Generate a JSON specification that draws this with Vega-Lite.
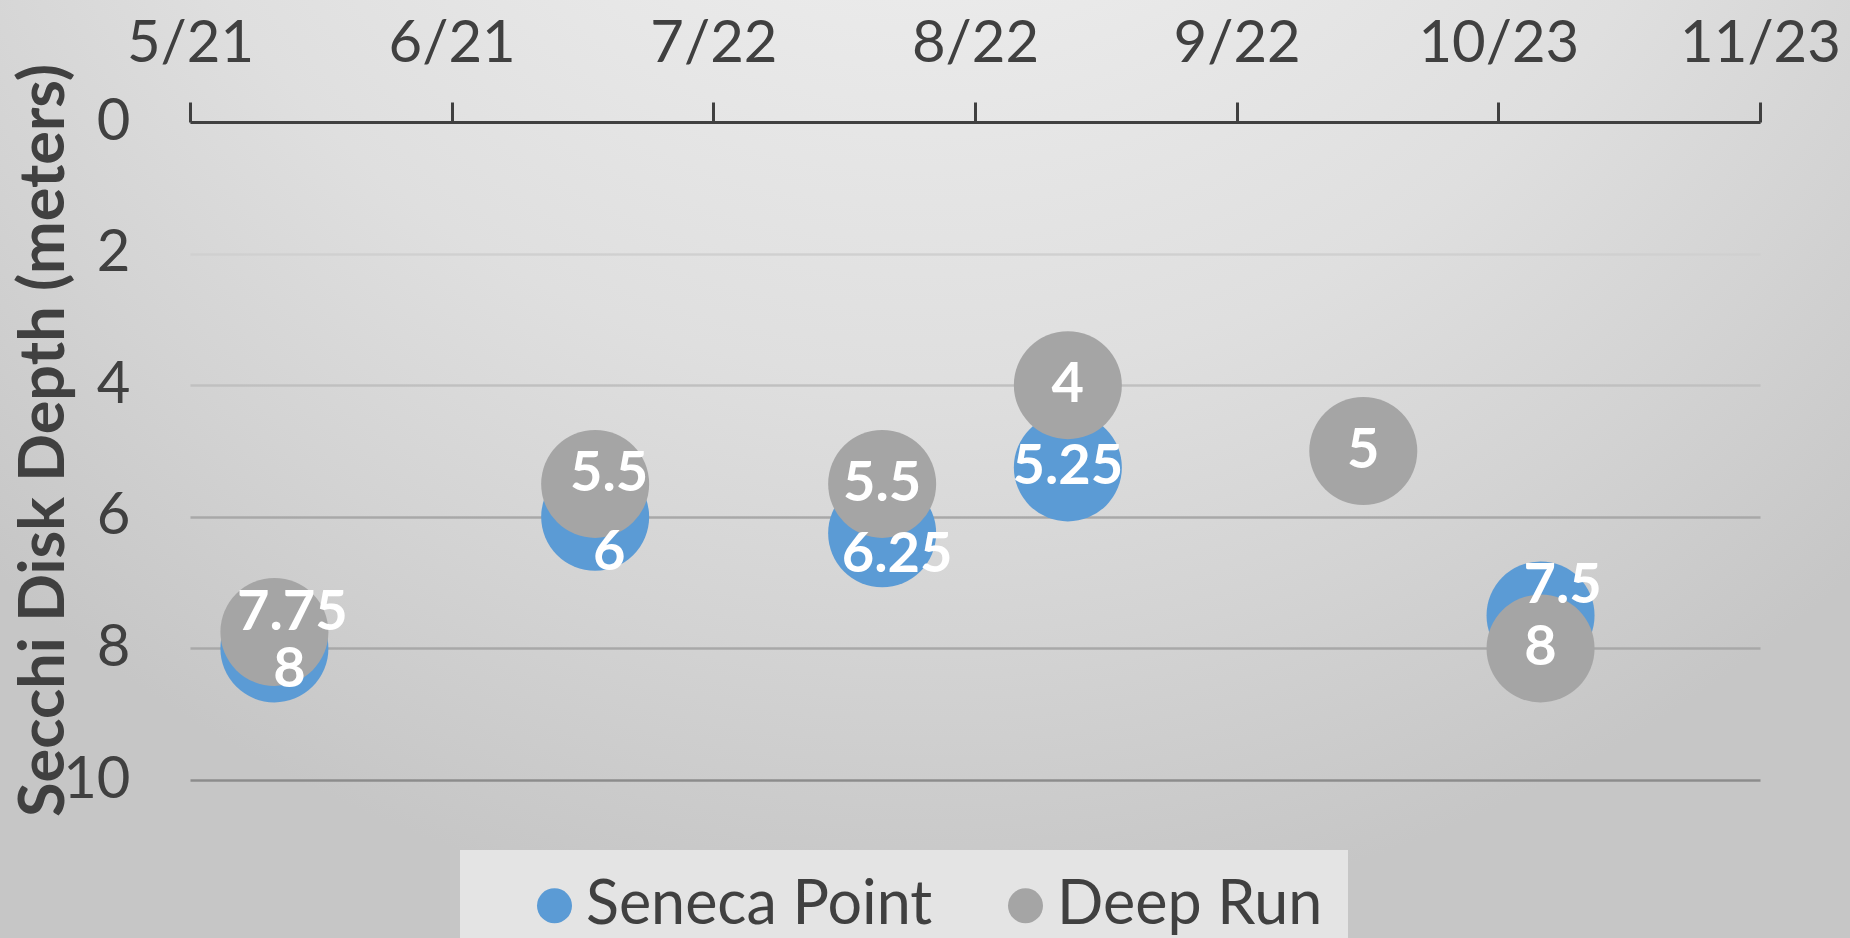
{
  "$schema": "https://vega.github.io/schema/vega-lite/v6.json",
  "width": 1850,
  "height": 938,
  "autosize": {"type": "none"},
  "padding": 0,
  "background": "#d6d6d6",
  "config": {
    "font": "Lato",
    "view": {
      "stroke": null,
      "fill": {
        "gradient": "radial",
        "x1": 0.5, "y1": 0, "r1": 0,
        "x2": 0.5, "y2": 0, "r2": 0.75,
        "stops": [
          {"offset": 0, "color": "#fafafa"},
          {"offset": 0.3, "color": "#ebebeb"},
          {"offset": 0.6, "color": "#dfdfdf"},
          {"offset": 0.8, "color": "#d3d3d3"},
          {"offset": 1, "color": "#c6c6c6"}
        ]
      }
    }
  },
  "data": {
    "values": [
      {"date": "2023-05-31T00:00:00", "site": "Seneca Point", "depth": 8},
      {"date": "2023-07-08T00:00:00", "site": "Seneca Point", "depth": 6},
      {"date": "2023-08-11T00:00:00", "site": "Seneca Point", "depth": 6.25},
      {"date": "2023-09-02T00:00:00", "site": "Seneca Point", "depth": 5.25},
      {"date": "2023-10-28T00:00:00", "site": "Seneca Point", "depth": 7.5},
      {"date": "2023-05-31T00:00:00", "site": "Deep Run", "depth": 7.75},
      {"date": "2023-07-08T00:00:00", "site": "Deep Run", "depth": 5.5},
      {"date": "2023-08-11T00:00:00", "site": "Deep Run", "depth": 5.5},
      {"date": "2023-09-02T00:00:00", "site": "Deep Run", "depth": 4},
      {"date": "2023-10-07T00:00:00", "site": "Deep Run", "depth": 5},
      {"date": "2023-10-28T00:00:00", "site": "Deep Run", "depth": 8}
    ]
  },
  "encoding": {
    "x": {
      "field": "date",
      "type": "temporal",
      "scale": {
        "domain": [{"year": 2023, "month": 5, "date": 21}, {"year": 2023, "month": 11, "date": 23}],
        "range": [190, 1760],
        "nice": false
      },
      "axis": {
        "orient": "top",
        "offset": -122,
        "values": [
          {"year": 2023, "month": 5, "date": 21},
          {"year": 2023, "month": 6, "date": 21},
          {"year": 2023, "month": 7, "date": 22},
          {"year": 2023, "month": 8, "date": 22},
          {"year": 2023, "month": 9, "date": 22},
          {"year": 2023, "month": 10, "date": 23},
          {"year": 2023, "month": 11, "date": 23}
        ],
        "format": "%-m/%-d",
        "title": null,
        "grid": false,
        "labelFont": "Lato",
        "labelFontSize": 58,
        "labelColor": "#404040",
        "labelBaseline": "alphabetic",
        "labelPadding": 41,
        "labelFlush": false,
        "labelOverlap": false,
        "labelBound": false,
        "tickSize": 20,
        "tickWidth": 3,
        "tickColor": "#404040",
        "domainColor": "#404040",
        "domainWidth": 3
      }
    },
    "y": {
      "field": "depth",
      "type": "quantitative",
      "scale": {"domain": [0, 10], "range": [122, 780], "nice": false, "zero": false},
      "axis": {
        "orient": "left",
        "offset": -130,
        "values": [0, 2, 4, 6, 8, 10],
        "labelFont": "Lato",
        "labelFontSize": 58,
        "labelColor": "#404040",
        "labelPadding": 0,
        "labelFlush": false,
        "labelOverlap": false,
        "labelBound": false,
        "ticks": false,
        "tickSize": 0,
        "domain": false,
        "grid": true,
        "gridColor": {
          "condition": [
            {"test": "datum.value == 2", "value": "#d0d0d0"},
            {"test": "datum.value == 4", "value": "#c0c0c0"},
            {"test": "datum.value == 10", "value": "#8c8c8c"}
          ],
          "value": "#a8a8a8"
        },
        "gridWidth": 2.5,
        "title": "Secchi Disk Depth (meters)",
        "titleFont": "Lato",
        "titleFontWeight": "bold",
        "titleFontSize": 63,
        "titleColor": "#404040",
        "titleAngle": -90,
        "titleX": -67,
        "titleY": 440,
        "titleAlign": "center",
        "titleBaseline": "alphabetic"
      }
    }
  },
  "layer": [
    {
      "mark": {"type": "circle", "size": 11664, "opacity": 1},
      "encoding": {
        "color": {
          "field": "site",
          "type": "nominal",
          "scale": {"domain": ["Seneca Point", "Deep Run"], "range": ["#5B9BD5", "#A5A5A5"]},
          "legend": {
            "orient": "none",
            "legendX": 460,
            "legendY": 850,
            "direction": "horizontal",
            "title": null,
            "symbolType": "circle",
            "symbolSize": 1225,
            "symbolOpacity": 1,
            "symbolStrokeWidth": 0,
            "symbolOffset": 39,
            "labelFont": "Lato",
            "labelFontSize": 61,
            "labelColor": "#404040",
            "labelOffset": 1,
            "labelLimit": 1000,
            "columnPadding": 23,
            "padding": 25,
            "fillColor": "#e4e4e4"
          }
        }
      }
    },
    {
      "transform": [{"filter": "(datum.site=='Seneca Point' && datum.depth==5.25) || (datum.site=='Deep Run' && (datum.depth==4 || datum.depth==5 || datum.depth==8 || (datum.depth==5.5 && month(datum.date)==7)))"}],
      "mark": {"type": "text", "font": "Lato", "fontWeight": "bold", "fontSize": 56, "color": "white", "align": "center", "baseline": "middle"},
      "encoding": {"text": {"field": "depth", "type": "quantitative"}}
    },
    {
      "transform": [{"filter": "datum.site=='Seneca Point' && (datum.depth==8 || datum.depth==6.25)"}],
      "mark": {"type": "text", "font": "Lato", "fontWeight": "bold", "fontSize": 56, "color": "white", "align": "center", "baseline": "middle", "dx": 15, "dy": 22},
      "encoding": {"text": {"field": "depth", "type": "quantitative"}}
    },
    {
      "transform": [{"filter": "datum.site=='Seneca Point' && datum.depth==6"}],
      "mark": {"type": "text", "font": "Lato", "fontWeight": "bold", "fontSize": 56, "color": "white", "align": "center", "baseline": "middle", "dx": 14, "dy": 36},
      "encoding": {"text": {"field": "depth", "type": "quantitative"}}
    },
    {
      "transform": [{"filter": "datum.site=='Seneca Point' && datum.depth==7.5"}],
      "mark": {"type": "text", "font": "Lato", "fontWeight": "bold", "fontSize": 56, "color": "white", "align": "center", "baseline": "middle", "dx": 22, "dy": -30},
      "encoding": {"text": {"field": "depth", "type": "quantitative"}}
    },
    {
      "transform": [{"filter": "datum.site=='Deep Run' && datum.depth==7.75"}],
      "mark": {"type": "text", "font": "Lato", "fontWeight": "bold", "fontSize": 56, "color": "white", "align": "center", "baseline": "middle", "dx": 18, "dy": -19},
      "encoding": {"text": {"field": "depth", "type": "quantitative"}}
    },
    {
      "transform": [{"filter": "datum.site=='Deep Run' && datum.depth==5.5 && month(datum.date)==6"}],
      "mark": {"type": "text", "font": "Lato", "fontWeight": "bold", "fontSize": 56, "color": "white", "align": "center", "baseline": "middle", "dx": 14, "dy": -10},
      "encoding": {"text": {"field": "depth", "type": "quantitative"}}
    }
  ]
}
